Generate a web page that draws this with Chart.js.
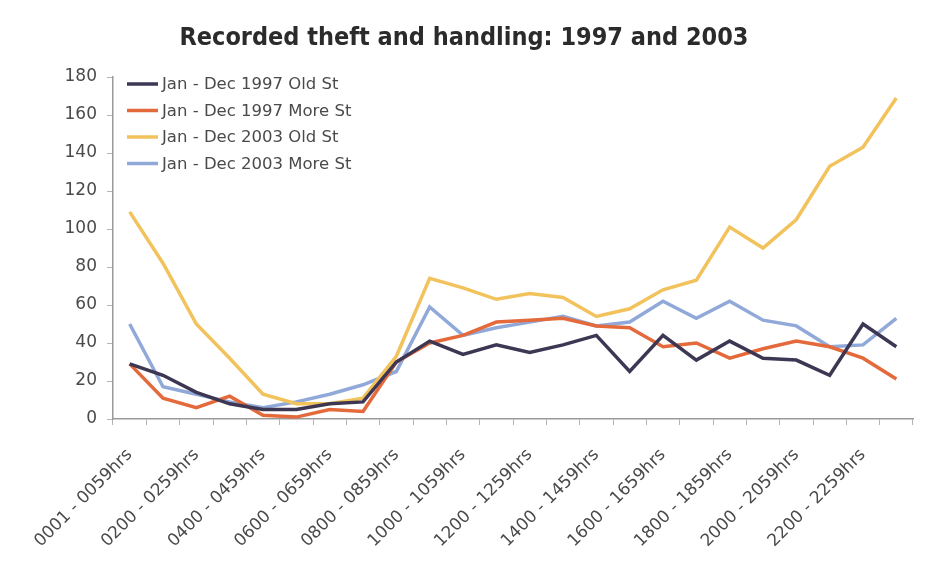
<!DOCTYPE html>
<html><head><meta charset="utf-8">
<script src="https://cdn.jsdelivr.net/npm/chart.js@4/dist/chart.umd.min.js"></script>
<style>html,body{margin:0;padding:0;background:#fff}#wrap{width:940px;height:572px;position:relative}</style>
</head><body><div id="wrap"><canvas id="c" width="940" height="572"></canvas></div>
<script>
const chartTitle = "Recorded theft and handling: 1997 and 2003";
const categories = [
  "0001 - 0059hrs","0100 - 0159hrs","0200 - 0259hrs","0300 - 0359hrs",
  "0400 - 0459hrs","0500 - 0559hrs","0600 - 0659hrs","0700 - 0759hrs",
  "0800 - 0859hrs","0900 - 0959hrs","1000 - 1059hrs","1100 - 1159hrs",
  "1200 - 1259hrs","1300 - 1359hrs","1400 - 1459hrs","1500 - 1559hrs",
  "1600 - 1659hrs","1700 - 1759hrs","1800 - 1859hrs","1900 - 1959hrs",
  "2000 - 2059hrs","2100 - 2159hrs","2200 - 2259hrs","2300 - 2359hrs"
];
const seriesNames = ["Jan - Dec 1997 Old St","Jan - Dec 1997 More St","Jan - Dec 2003 Old St","Jan - Dec 2003 More St"];
const old1997  = [29, 23, 14, 8, 5, 5, 8, 9, 30, 41, 34, 39, 35, 39, 44, 25, 44, 31, 41, 32, 31, 23, 50, 38];
const more1997 = [29, 11, 6, 12, 2, 1, 5, 4, 30, 40, 44, 51, 52, 53, 49, 48, 38, 40, 32, 37, 41, 38, 32, 21];
const old2003  = [109, 82, 50, 32, 13, 8, 8, 11, 33, 74, 69, 63, 66, 64, 54, 58, 68, 73, 101, 90, 105, 133, 143, 169];
const more2003 = [50, 17, 13, 9, 6, 9, 13, 18, 25, 59, 44, 48, 51, 54, 49, 51, 62, 53, 62, 52, 49, 38, 39, 53];
const yMin = 0, yMax = 180, yStep = 20;

const colors = ['#3d3753', '#e4693b', '#f2c25c', '#91a9d8'];
const series = [old1997, more1997, old2003, more2003];
const xFont = {family: "'DejaVu Sans', sans-serif", size: 17};
const yFont = {family: "'DejaVu Sans', sans-serif", size: 17};
const textColor = '#4a4a4a';

const overlay = {
  id: 'overlay',
  afterDraw(chart) {
    const ctx = chart.ctx;
    ctx.save();
    ctx.fillStyle = '#2b2b2b';
    ctx.font = "bold 25px 'DejaVu Sans Condensed', 'DejaVu Sans', sans-serif";
    ctx.textAlign = 'center';
    ctx.textBaseline = 'middle';
    ctx.fillText(chartTitle, 464, 38);
    ctx.font = "16.5px 'DejaVu Sans', sans-serif";
    ctx.textAlign = 'left';
    chart.data.datasets.forEach((ds, i) => {
      const y = 84 + i * 26.5;
      ctx.strokeStyle = ds.borderColor;
      ctx.lineWidth = 3.5;
      ctx.beginPath(); ctx.moveTo(127, y); ctx.lineTo(158, y); ctx.stroke();
      ctx.fillStyle = textColor;
      ctx.fillText(ds.label, 162, y + 1);
    });
    ctx.restore();
  }
};

new Chart(document.getElementById('c'), {
  type: 'line',
  data: {
    labels: categories,
    datasets: series.map((d, i) => ({
      label: seriesNames[i], data: d, borderColor: colors[i], backgroundColor: colors[i],
      borderWidth: 3.5, pointRadius: 0, tension: 0, fill: false
    }))
  },
  options: {
    responsive: false, animation: false, devicePixelRatio: 1,
    layout: {padding: {top: 77, right: 27, left: 0, bottom: 0}},
    plugins: {legend: {display: false}, title: {display: false}, tooltip: {enabled: false}},
    scales: {
      x: {
        offset: true,
        grid: {display: true, drawOnChartArea: false, drawTicks: true, tickLength: 6, color: '#b5b5b5', offset: true},
        border: {display: true, color: '#9a9a9a', width: 1.5},
        ticks: {autoSkip: false, minRotation: 45, maxRotation: 45, font: xFont, color: textColor, padding: 20,
          callback: (v, i) => (i % 2 === 0 ? categories[i] : '')},
        afterFit: s => { s.height = 153; }
      },
      y: {
        min: yMin, max: yMax,
        grid: {display: true, drawOnChartArea: false, drawTicks: true, tickLength: 6, color: '#b5b5b5'},
        border: {display: true, color: '#9a9a9a', width: 1.5},
        ticks: {stepSize: yStep, font: yFont, color: textColor, padding: 10},
        afterFit: s => { s.width = 113; }
      }
    }
  },
  plugins: [overlay]
});
</script></body></html>
